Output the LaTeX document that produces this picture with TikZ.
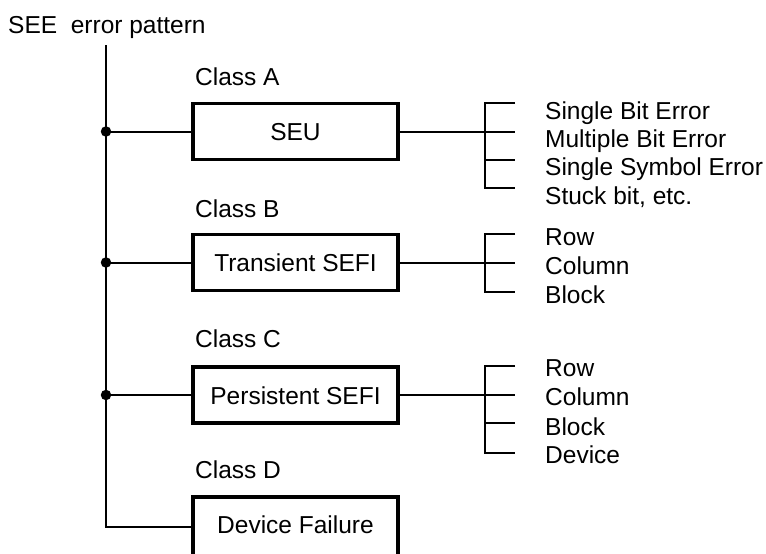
\documentclass[tikz,border=0pt]{standalone}
\usepackage{fontspec}
\setmainfont{Liberation Sans}
\begin{document}
\begin{tikzpicture}[x=1pt,y=-1pt,
  every node/.style={font=\fontsize{24.5}{29}\selectfont, inner sep=0pt},
  thinline/.style={line width=2pt},
  box/.style={draw, line width=3.6pt, minimum width=205pt, minimum height=56pt, text height=18pt, text depth=-2pt},
  lbl/.style={anchor=base west},
  jdot/.style={circle, fill, minimum size=10.5pt, inner sep=0pt}]
\useasboundingbox (0,0) rectangle (766,554);

% title and class labels
\node[lbl] (title) at (8,33) {SEE\ \ error pattern};
\node[lbl] (clA) at (195,85) {Class A};
\node[lbl] (clB) at (195,217) {Class B};
\node[lbl] (clC) at (195,347) {Class C};
\node[lbl] (clD) at (195,478) {Class D};

% boxes
\node[box] (seu) at (295.5,131.5) {SEU};
\node[box] (tsefi) at (295.5,262.5) {Transient SEFI};
\node[box] (psefi) at (295.5,395) {Persistent SEFI};
\node[box, minimum height=60pt, text depth=6pt] (dfail) at (295.5,527) {Device Failure};

% trunk
\coordinate (top) at (106,45);
\draw[thinline] (top) |- (dfail.west);
\node[jdot] (d1) at (seu.west -| top) {};
\node[jdot] (d2) at (tsefi.west -| top) {};
\node[jdot] (d3) at (psefi.west -| top) {};
\draw[thinline] (d1.center) -- (seu.west);
\draw[thinline] (d2.center) -- (tsefi.west);
\draw[thinline] (d3.center) -- (psefi.west);

% bracket coordinates
\foreach \n/\y in {a1/103,a2/131.5,a3/160,a4/188,b1/234,b2/262.5,b3/292,c1/366,c2/395,c3/423,c4/453}{
  \coordinate (\n) at (485,\y);
  \coordinate (\n e) at (515,\y);
}

% SEU bracket
\draw[thinline] (seu.east) -- (a2);
\draw[thinline] (a1e) -- (a1) -- (a4) -- (a4e);
\draw[thinline] (a2) -- (a2e);
\draw[thinline] (a3) -- (a3e);
\node[lbl] (ta1) at (545,119) {Single Bit Error};
\node[lbl] (ta2) at (545,147) {Multiple Bit Error};
\node[lbl] (ta3) at (545,175.5) {Single Symbol Error};
\node[lbl] (ta4) at (545,204) {Stuck bit, etc.};

% Transient bracket
\draw[thinline] (tsefi.east) -- (b2);
\draw[thinline] (b1e) -- (b1) -- (b3) -- (b3e);
\draw[thinline] (b2) -- (b2e);
\node[lbl] (tb1) at (545,245) {Row};
\node[lbl] (tb2) at (545,274) {Column};
\node[lbl] (tb3) at (545,303) {Block};

% Persistent bracket
\draw[thinline] (psefi.east) -- (c2);
\draw[thinline] (c1e) -- (c1) -- (c4) -- (c4e);
\draw[thinline] (c2) -- (c2e);
\draw[thinline] (c3) -- (c3e);
\node[lbl] (tc1) at (545,376.7) {Row};
\node[lbl] (tc2) at (545,405) {Column};
\node[lbl] (tc3) at (545,435) {Block};
\node[lbl] (tc4) at (545,463) {Device};
\end{tikzpicture}
\end{document}
